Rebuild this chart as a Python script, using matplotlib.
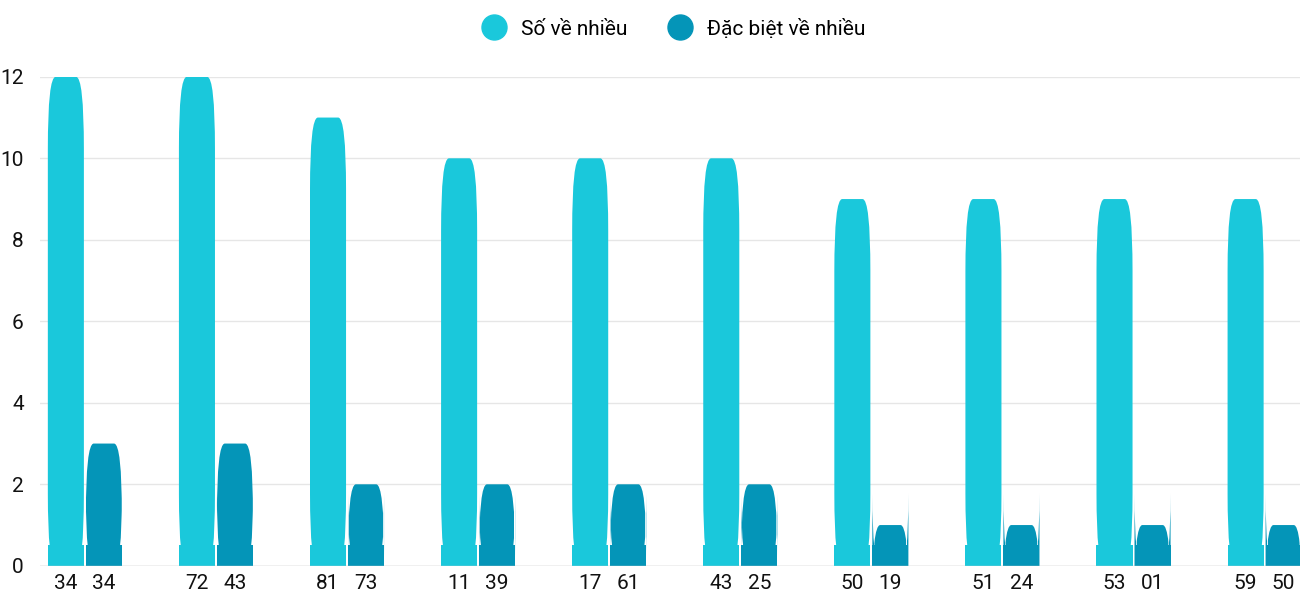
import matplotlib.pyplot as plt
import numpy as np
from matplotlib.patches import FancyBboxPatch

plt.rcParams['font.family'] = ['Roboto', 'DejaVu Sans']

so_labels = ["34", "72", "81", "11", "17", "43", "50", "51", "53", "59"]
db_labels = ["34", "43", "73", "39", "61", "25", "19", "24", "01", "50"]
so_values = [12, 12, 11, 10, 10, 10, 9, 9, 9, 9]
db_values = [3, 3, 2, 2, 2, 2, 1, 1, 1, 1]

c1 = "#1AC8DB"
c2 = "#0495B8"

fig = plt.figure(figsize=(13, 6), dpi=100)
ax = fig.add_axes([0.031, 0.057, 0.969, 0.815])

x = np.arange(len(so_values))
w = 0.275
off = 0.145
for xs, vals, col in [(x - off, so_values, c1), (x + off, db_values, c2)]:
    for xi, v in zip(xs, vals):
        ax.add_patch(FancyBboxPatch((xi - w / 2, 0), w, v,
                                    boxstyle="round,pad=0,rounding_size=0.06",
                                    mutation_aspect=1 / 0.034,
                                    facecolor=col, edgecolor="none", zorder=3))
        ax.add_patch(plt.Rectangle((xi - w / 2, 0), w, min(v, 0.5),
                                   facecolor=col, edgecolor="none", zorder=3))

ax.set_xlim(-0.34, 9.27)
ax.set_ylim(0, 12)
ax.set_yticks(range(0, 13, 2))
ticks = np.concatenate([x - off, x + off])
ax.set_xticks(ticks)
ax.set_xticklabels(so_labels + db_labels)
ax.tick_params(axis="both", length=0, labelsize=15, colors="#111111")
ax.tick_params(axis="x", pad=6)
ax.tick_params(axis="y", pad=12)
ax.grid(axis="y", color="#e6e6e6", linewidth=1, zorder=0)
for s in ax.spines.values():
    s.set_visible(False)
ax.axhline(0, color="#cccccc", linewidth=1, zorder=4)

h1 = plt.Line2D([], [], marker="o", linestyle="none", markersize=18, color=c1)
h2 = plt.Line2D([], [], marker="o", linestyle="none", markersize=18, color=c2)
fig.legend([h1, h2], ["Số về nhiều", "Đặc biệt về nhiều"], loc="upper center",
           bbox_to_anchor=(0.515, 1.0), ncol=2, frameon=False, fontsize=15,
           handletextpad=0.3, columnspacing=1.5)

fig.savefig("out.png")
